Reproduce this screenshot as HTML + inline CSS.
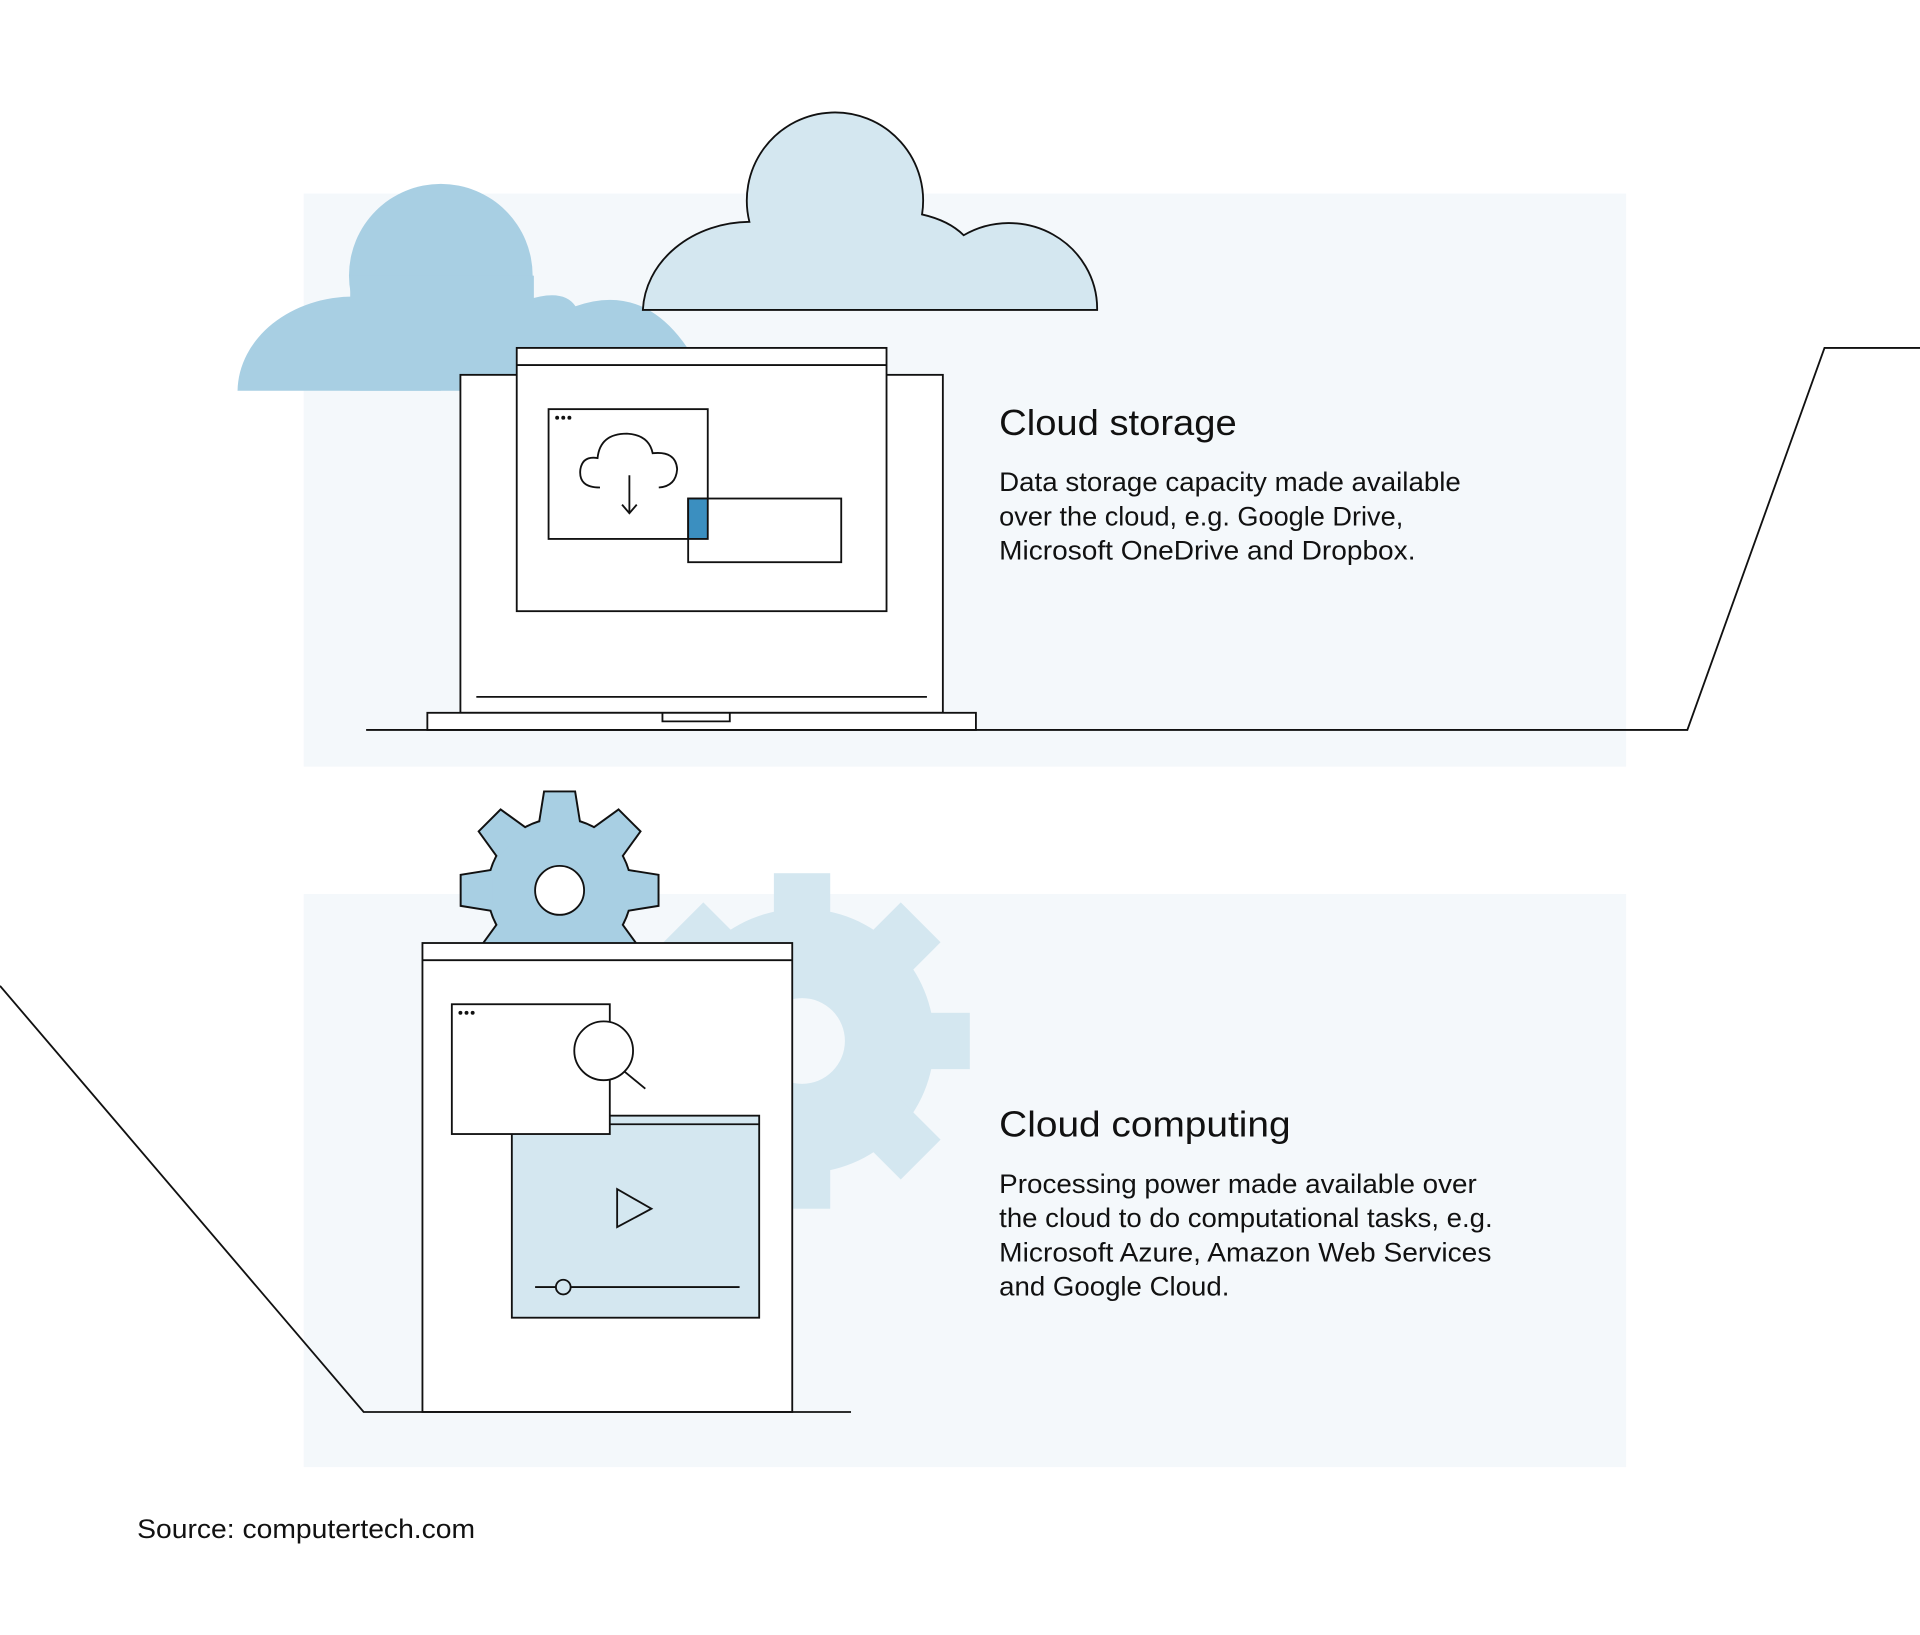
<!DOCTYPE html>
<html><head><meta charset="utf-8"><style>
html,body{margin:0;padding:0;background:#fff;}
svg{display:block;}
text{font-family:"Liberation Sans",sans-serif;fill:#111;}
</style></head><body>
<svg width="1920" height="1635" viewBox="0 0 1568 1335" xmlns="http://www.w3.org/2000/svg">
<defs>
<clipPath id="above"><rect x="0" y="0" width="1568" height="770"/></clipPath>
<g id="dg">
<circle r="58"/>
<polygon points="-12,-80 12,-80 16,-55 -16,-55"/>
<polygon points="-12,-80 12,-80 16,-55 -16,-55" transform="rotate(45)"/>
<polygon points="-12,-80 12,-80 16,-55 -16,-55" transform="rotate(90)"/>
<polygon points="-12,-80 12,-80 16,-55 -16,-55" transform="rotate(135)"/>
<polygon points="-12,-80 12,-80 16,-55 -16,-55" transform="rotate(180)"/>
<polygon points="-12,-80 12,-80 16,-55 -16,-55" transform="rotate(225)"/>
<polygon points="-12,-80 12,-80 16,-55 -16,-55" transform="rotate(270)"/>
<polygon points="-12,-80 12,-80 16,-55 -16,-55" transform="rotate(315)"/>
</g>
</defs>
<rect width="1568" height="1335" fill="#fff"/>
<rect x="248" y="158" width="1080" height="468" fill="#f4f8fb"/>
<rect x="248" y="730" width="1080" height="468" fill="#f4f8fb"/>

<!-- dark cloud -->
<g fill="#a8cfe3">
<circle cx="360" cy="225" r="75"/>
<path d="M194 319 A95 78 0 0 1 290 242 L360 242 L360 319 Z"/>
<rect x="286" y="225" width="150" height="94"/>
<path d="M430 319 L430 245 Q460 235 470 250 Q540 225 580 319 Z"/>
</g>
<!-- light cloud -->
<path d="M525 253 A88 75 0 0 1 612 181 A72 72 0 1 1 753 175 Q775 180 787 192 A72 70 0 0 1 896 253 Z" fill="#d4e7f0" stroke="#111" stroke-width="1.5"/>

<!-- laptop -->
<g stroke="#111" stroke-width="1.5" fill="#fff">
<rect x="376" y="306" width="394" height="276"/>
<rect x="422" y="284" width="302" height="215"/>
<line x1="422" y1="298" x2="724" y2="298"/>
<rect x="448" y="334" width="130" height="106"/>
<rect x="562" y="407" width="125" height="52"/>
<rect x="562" y="407" width="16" height="33" fill="#3b8fc0"/>
<line x1="389" y1="569" x2="757" y2="569"/>
<rect x="349" y="582" width="448" height="14"/>
<path d="M541 582 L541 589 L596 589 L596 582" fill="none"/>
<path d="M299 596 L1378 596 L1490 284 L1568 284" fill="none"/>
<path d="M490 398 Q472 398 474 383 Q476 372 488 374 Q490 354 512 354 Q530 355 533 370 Q552 368 553 383 Q552 397 538 398" fill="none"/>
<line x1="514" y1="388" x2="514" y2="419" fill="none"/>
<path d="M508 412 L514 419 L520 412" fill="none"/>
</g>
<g fill="#111"><circle cx="455" cy="341" r="1.6"/><circle cx="460" cy="341" r="1.6"/><circle cx="465" cy="341" r="1.6"/></g>

<text x="816" y="355" font-size="29.5" textLength="194" lengthAdjust="spacingAndGlyphs">Cloud storage</text>
<text font-size="22"><tspan x="816" y="401" textLength="377" lengthAdjust="spacingAndGlyphs">Data storage capacity made available</tspan><tspan x="816" y="429" textLength="330" lengthAdjust="spacingAndGlyphs">over the cloud, e.g. Google Drive,</tspan><tspan x="816" y="457" textLength="340" lengthAdjust="spacingAndGlyphs">Microsoft OneDrive and Dropbox.</tspan></text>

<!-- light gear -->
<g fill="#d4e7f0" transform="translate(655,850)">
<circle r="108"/>
<g><rect x="-23" y="-137" width="46" height="60"/><rect x="-23" y="-137" width="46" height="60" transform="rotate(45)"/><rect x="-23" y="-137" width="46" height="60" transform="rotate(90)"/><rect x="-23" y="-137" width="46" height="60" transform="rotate(135)"/><rect x="-23" y="-137" width="46" height="60" transform="rotate(180)"/><rect x="-23" y="-137" width="46" height="60" transform="rotate(225)"/><rect x="-23" y="-137" width="46" height="60" transform="rotate(270)"/><rect x="-23" y="-137" width="46" height="60" transform="rotate(315)"/></g>
<circle r="35" fill="#f4f8fb"/>
</g>
<!-- dark gear -->
<g clip-path="url(#above)">
<g transform="translate(457,727)">
<use href="#dg" fill="#111" stroke="#111" stroke-width="3.2" stroke-linejoin="miter"/>
<use href="#dg" fill="#a8cfe3"/>
<circle r="20" fill="#fff" stroke="#111" stroke-width="1.5"/>
</g>
</g>

<!-- building -->
<g stroke="#111" stroke-width="1.5" fill="#fff">
<rect x="345" y="770" width="302" height="383"/>
<line x1="345" y1="784" x2="647" y2="784"/>
<rect x="418" y="911" width="202" height="165" fill="#d4e7f0"/>
<line x1="418" y1="918" x2="620" y2="918"/>
<rect x="369" y="820" width="129" height="106"/>
<circle cx="493" cy="858" r="24"/>
<line x1="510" y1="875" x2="527" y2="889"/>
<path d="M504 971 L504 1002 L532 987 Z" fill="none"/>
<line x1="437" y1="1051" x2="604" y2="1051"/>
<circle cx="460" cy="1051" r="6" fill="#d4e7f0"/>
<path d="M0 805 L297 1153 L695 1153" fill="none"/>
</g>
<g fill="#111"><circle cx="376" cy="827" r="1.6"/><circle cx="381" cy="827" r="1.6"/><circle cx="386" cy="827" r="1.6"/></g>

<text x="816" y="928" font-size="29.5" textLength="238" lengthAdjust="spacingAndGlyphs">Cloud computing</text>
<text font-size="22"><tspan x="816" y="974" textLength="390" lengthAdjust="spacingAndGlyphs">Processing power made available over</tspan><tspan x="816" y="1002" textLength="403" lengthAdjust="spacingAndGlyphs">the cloud to do computational tasks, e.g.</tspan><tspan x="816" y="1030" textLength="402" lengthAdjust="spacingAndGlyphs">Microsoft Azure, Amazon Web Services</tspan><tspan x="816" y="1058" textLength="188" lengthAdjust="spacingAndGlyphs">and Google Cloud.</tspan></text>

<text x="112" y="1256" font-size="22" textLength="276" lengthAdjust="spacingAndGlyphs">Source: computertech.com</text>
</svg>
</body></html>
